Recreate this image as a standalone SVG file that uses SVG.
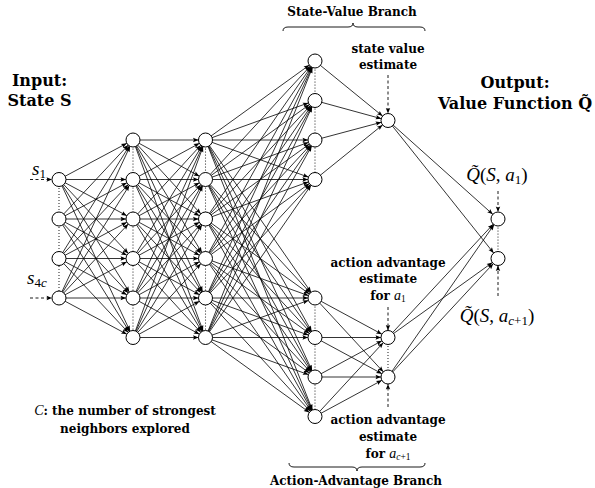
<svg xmlns="http://www.w3.org/2000/svg" width="595" height="488" viewBox="0 0 595 488">
<style>
.b{font-family:"DejaVu Serif",serif;font-weight:bold;text-anchor:middle;fill:#000}
.t{font-size:16px}
.s{font-size:12px}
.m{font-family:"Liberation Serif",serif;font-style:italic;font-weight:normal}
.r{font-family:"Liberation Serif",serif;font-style:normal;font-weight:normal}
.n{fill:#fff;stroke:#000;stroke-width:1}
.dot{stroke:#000;stroke-width:1.2;stroke-linecap:round;stroke-dasharray:0 3;fill:none}
.dash{stroke:#000;stroke-width:0.9;stroke-dasharray:3 2.5;fill:none;marker-end:url(#h)}
</style>
<defs>
<marker id="a" markerUnits="userSpaceOnUse" markerWidth="20" markerHeight="10" viewBox="-20 -5 20 10" refX="0" refY="0" orient="auto" overflow="visible"><path d="M-12.5,-2.2 L-7,0 L-12.5,2.2 L-11.5,0 Z" fill="#000"/></marker>
<marker id="h" markerUnits="userSpaceOnUse" markerWidth="10" markerHeight="10" viewBox="-10 -5 10 10" refX="0" refY="0" orient="auto" overflow="visible"><path d="M-5.5,-2.2 L0,0 L-5.5,2.2 L-4.5,0 Z" fill="#000"/></marker>
</defs>
<rect width="595" height="488" fill="#fff"/>
<g id="connectors" stroke="#000" stroke-width="0.8" marker-end="url(#a)">
<!-- L1 to L2 -->
<line x1="59" y1="179.5" x2="133" y2="140"/><line x1="59" y1="179.5" x2="133" y2="179.5"/><line x1="59" y1="179.5" x2="133" y2="219"/><line x1="59" y1="179.5" x2="133" y2="258.5"/><line x1="59" y1="179.5" x2="133" y2="298"/><line x1="59" y1="179.5" x2="133" y2="337.5"/>
<line x1="59" y1="219" x2="133" y2="140"/><line x1="59" y1="219" x2="133" y2="179.5"/><line x1="59" y1="219" x2="133" y2="219"/><line x1="59" y1="219" x2="133" y2="258.5"/><line x1="59" y1="219" x2="133" y2="298"/><line x1="59" y1="219" x2="133" y2="337.5"/>
<line x1="59" y1="258.5" x2="133" y2="140"/><line x1="59" y1="258.5" x2="133" y2="179.5"/><line x1="59" y1="258.5" x2="133" y2="219"/><line x1="59" y1="258.5" x2="133" y2="258.5"/><line x1="59" y1="258.5" x2="133" y2="298"/><line x1="59" y1="258.5" x2="133" y2="337.5"/>
<line x1="59" y1="298" x2="133" y2="140"/><line x1="59" y1="298" x2="133" y2="179.5"/><line x1="59" y1="298" x2="133" y2="219"/><line x1="59" y1="298" x2="133" y2="258.5"/><line x1="59" y1="298" x2="133" y2="298"/><line x1="59" y1="298" x2="133" y2="337.5"/>
<!-- L2 to L3 -->
<line x1="133" y1="140" x2="205.5" y2="140"/><line x1="133" y1="140" x2="205.5" y2="179.5"/><line x1="133" y1="140" x2="205.5" y2="219"/><line x1="133" y1="140" x2="205.5" y2="258.5"/><line x1="133" y1="140" x2="205.5" y2="298"/><line x1="133" y1="140" x2="205.5" y2="337.5"/>
<line x1="133" y1="179.5" x2="205.5" y2="140"/><line x1="133" y1="179.5" x2="205.5" y2="179.5"/><line x1="133" y1="179.5" x2="205.5" y2="219"/><line x1="133" y1="179.5" x2="205.5" y2="258.5"/><line x1="133" y1="179.5" x2="205.5" y2="298"/><line x1="133" y1="179.5" x2="205.5" y2="337.5"/>
<line x1="133" y1="219" x2="205.5" y2="140"/><line x1="133" y1="219" x2="205.5" y2="179.5"/><line x1="133" y1="219" x2="205.5" y2="219"/><line x1="133" y1="219" x2="205.5" y2="258.5"/><line x1="133" y1="219" x2="205.5" y2="298"/><line x1="133" y1="219" x2="205.5" y2="337.5"/>
<line x1="133" y1="258.5" x2="205.5" y2="140"/><line x1="133" y1="258.5" x2="205.5" y2="179.5"/><line x1="133" y1="258.5" x2="205.5" y2="219"/><line x1="133" y1="258.5" x2="205.5" y2="258.5"/><line x1="133" y1="258.5" x2="205.5" y2="298"/><line x1="133" y1="258.5" x2="205.5" y2="337.5"/>
<line x1="133" y1="298" x2="205.5" y2="140"/><line x1="133" y1="298" x2="205.5" y2="179.5"/><line x1="133" y1="298" x2="205.5" y2="219"/><line x1="133" y1="298" x2="205.5" y2="258.5"/><line x1="133" y1="298" x2="205.5" y2="298"/><line x1="133" y1="298" x2="205.5" y2="337.5"/>
<line x1="133" y1="337.5" x2="205.5" y2="140"/><line x1="133" y1="337.5" x2="205.5" y2="179.5"/><line x1="133" y1="337.5" x2="205.5" y2="219"/><line x1="133" y1="337.5" x2="205.5" y2="258.5"/><line x1="133" y1="337.5" x2="205.5" y2="298"/><line x1="133" y1="337.5" x2="205.5" y2="337.5"/>
<!-- L3 to L4 -->
<line x1="205.5" y1="140" x2="315" y2="61"/><line x1="205.5" y1="140" x2="315" y2="100.5"/><line x1="205.5" y1="140" x2="315" y2="140"/><line x1="205.5" y1="140" x2="315" y2="179.5"/><line x1="205.5" y1="140" x2="315" y2="298"/><line x1="205.5" y1="140" x2="315" y2="337.5"/><line x1="205.5" y1="140" x2="315" y2="377"/><line x1="205.5" y1="140" x2="315" y2="416.5"/>
<line x1="205.5" y1="179.5" x2="315" y2="61"/><line x1="205.5" y1="179.5" x2="315" y2="100.5"/><line x1="205.5" y1="179.5" x2="315" y2="140"/><line x1="205.5" y1="179.5" x2="315" y2="179.5"/><line x1="205.5" y1="179.5" x2="315" y2="298"/><line x1="205.5" y1="179.5" x2="315" y2="337.5"/><line x1="205.5" y1="179.5" x2="315" y2="377"/><line x1="205.5" y1="179.5" x2="315" y2="416.5"/>
<line x1="205.5" y1="219" x2="315" y2="61"/><line x1="205.5" y1="219" x2="315" y2="100.5"/><line x1="205.5" y1="219" x2="315" y2="140"/><line x1="205.5" y1="219" x2="315" y2="179.5"/><line x1="205.5" y1="219" x2="315" y2="298"/><line x1="205.5" y1="219" x2="315" y2="337.5"/><line x1="205.5" y1="219" x2="315" y2="377"/><line x1="205.5" y1="219" x2="315" y2="416.5"/>
<line x1="205.5" y1="258.5" x2="315" y2="61"/><line x1="205.5" y1="258.5" x2="315" y2="100.5"/><line x1="205.5" y1="258.5" x2="315" y2="140"/><line x1="205.5" y1="258.5" x2="315" y2="179.5"/><line x1="205.5" y1="258.5" x2="315" y2="298"/><line x1="205.5" y1="258.5" x2="315" y2="337.5"/><line x1="205.5" y1="258.5" x2="315" y2="377"/><line x1="205.5" y1="258.5" x2="315" y2="416.5"/>
<line x1="205.5" y1="298" x2="315" y2="61"/><line x1="205.5" y1="298" x2="315" y2="100.5"/><line x1="205.5" y1="298" x2="315" y2="140"/><line x1="205.5" y1="298" x2="315" y2="179.5"/><line x1="205.5" y1="298" x2="315" y2="298"/><line x1="205.5" y1="298" x2="315" y2="337.5"/><line x1="205.5" y1="298" x2="315" y2="377"/><line x1="205.5" y1="298" x2="315" y2="416.5"/>
<line x1="205.5" y1="337.5" x2="315" y2="61"/><line x1="205.5" y1="337.5" x2="315" y2="100.5"/><line x1="205.5" y1="337.5" x2="315" y2="140"/><line x1="205.5" y1="337.5" x2="315" y2="179.5"/><line x1="205.5" y1="337.5" x2="315" y2="298"/><line x1="205.5" y1="337.5" x2="315" y2="337.5"/><line x1="205.5" y1="337.5" x2="315" y2="377"/><line x1="205.5" y1="337.5" x2="315" y2="416.5"/>
<!-- state-value branch -->
<line x1="315" y1="61" x2="388" y2="120.5"/><line x1="315" y1="100.5" x2="388" y2="120.5"/><line x1="315" y1="140" x2="388" y2="120.5"/><line x1="315" y1="179.5" x2="388" y2="120.5"/>
<!-- action-advantage branch -->
<line x1="315" y1="298" x2="388" y2="337.5"/><line x1="315" y1="298" x2="388" y2="377"/>
<line x1="315" y1="337.5" x2="388" y2="337.5"/><line x1="315" y1="337.5" x2="388" y2="377"/>
<line x1="315" y1="377" x2="388" y2="337.5"/><line x1="315" y1="377" x2="388" y2="377"/>
<line x1="315" y1="416.5" x2="388" y2="337.5"/><line x1="315" y1="416.5" x2="388" y2="377"/>
<!-- to outputs -->
<line x1="388" y1="120.5" x2="498" y2="219"/><line x1="388" y1="120.5" x2="498" y2="258.5"/>
<line x1="388" y1="337.5" x2="498" y2="219"/><line x1="388" y1="337.5" x2="498" y2="258.5"/>
<line x1="388" y1="377" x2="498" y2="219"/><line x1="388" y1="377" x2="498" y2="258.5"/>
</g>
<g id="dots">
<line class="dot" x1="59" y1="179.5" x2="59" y2="298"/>
<line class="dot" x1="133" y1="140" x2="133" y2="337.5"/>
<line class="dot" x1="205.5" y1="140" x2="205.5" y2="337.5"/>
<line class="dot" x1="315" y1="61" x2="315" y2="179.5"/>
<line class="dot" x1="315" y1="298" x2="315" y2="416.5"/>
<line class="dot" x1="388" y1="337.5" x2="388" y2="377"/>
<line class="dot" x1="498" y1="219" x2="498" y2="258.5"/>
</g>
<g id="pointers">
<line class="dash" x1="30" y1="179.5" x2="52" y2="179.5"/>
<line class="dash" x1="30" y1="298" x2="52" y2="298"/>
<line class="dash" x1="388" y1="75" x2="388" y2="113.5"/>
<line class="dash" x1="388" y1="307" x2="388" y2="330.5"/>
<line class="dash" x1="388" y1="407" x2="388" y2="384"/>
<line class="dash" x1="498" y1="191" x2="498" y2="212"/>
<line class="dash" x1="498" y1="296" x2="498" y2="265.5"/>
</g>
<g id="layer1">
<circle class="n" cx="59" cy="179.5" r="7"/><circle class="n" cx="59" cy="219" r="7"/><circle class="n" cx="59" cy="258.5" r="7"/><circle class="n" cx="59" cy="298" r="7"/>
</g>
<g id="layer2">
<circle class="n" cx="133" cy="140" r="7"/><circle class="n" cx="133" cy="179.5" r="7"/><circle class="n" cx="133" cy="219" r="7"/><circle class="n" cx="133" cy="258.5" r="7"/><circle class="n" cx="133" cy="298" r="7"/><circle class="n" cx="133" cy="337.5" r="7"/>
</g>
<g id="layer3">
<circle class="n" cx="205.5" cy="140" r="7"/><circle class="n" cx="205.5" cy="179.5" r="7"/><circle class="n" cx="205.5" cy="219" r="7"/><circle class="n" cx="205.5" cy="258.5" r="7"/><circle class="n" cx="205.5" cy="298" r="7"/><circle class="n" cx="205.5" cy="337.5" r="7"/>
</g>
<g id="state-value-layer">
<circle class="n" cx="315" cy="61" r="7"/><circle class="n" cx="315" cy="100.5" r="7"/><circle class="n" cx="315" cy="140" r="7"/><circle class="n" cx="315" cy="179.5" r="7"/>
</g>
<g id="action-advantage-layer">
<circle class="n" cx="315" cy="298" r="7"/><circle class="n" cx="315" cy="337.5" r="7"/><circle class="n" cx="315" cy="377" r="7"/><circle class="n" cx="315" cy="416.5" r="7"/>
</g>
<g id="state-value-node"><circle class="n" cx="388" cy="120.5" r="7"/></g>
<g id="action-node-1"><circle class="n" cx="388" cy="337.5" r="7"/></g>
<g id="action-node-2"><circle class="n" cx="388" cy="377" r="7"/></g>
<g id="output-node-1"><circle class="n" cx="498" cy="219" r="7"/></g>
<g id="output-node-2"><circle class="n" cx="498" cy="258.5" r="7"/></g>
<g id="braces" fill="none" stroke="#000" stroke-width="0.9">
<path d="M283,31 Q283,27 288,27 L348,27 Q353,27 353,23 Q353,27 358,27 L420,27 Q425,27 425,31"/>
<path d="M289,463 Q289,467 294,467 L352,467 Q357,467 357,471 Q357,467 362,467 L420,467 Q425,467 425,463"/>
</g>
<g id="labels">
<text class="b t" x="39.5" y="86">Input:</text>
<text class="b t" x="39.5" y="106">State S</text>
<text class="b t" x="515" y="88">Output:</text>
<text class="b t" x="515" y="109">Value Function Q&#x303;</text>
<text class="b s" x="352" y="16">State-Value Branch</text>
<text class="b s" x="356" y="485">Action-Advantage Branch</text>
<text class="b s" x="388" y="53">state value</text>
<text class="b s" x="388" y="69">estimate</text>
<text class="b s" x="388" y="267">action advantage</text>
<text class="b s" x="388" y="283">estimate</text>
<text class="b s" x="388" y="300">for <tspan class="m" font-size="14">a</tspan><tspan class="r" font-size="9.5" dy="2">1</tspan></text>
<text class="b s" x="388" y="424">action advantage</text>
<text class="b s" x="388" y="441">estimate</text>
<text class="b s" x="388" y="458">for <tspan class="m" font-size="14">a</tspan><tspan class="m" font-size="9.5" dy="2">c</tspan><tspan class="r" font-size="9.5">+1</tspan></text>
<text class="b s" x="125" y="415"><tspan class="m" font-size="14">C</tspan>: the number of strongest</text>
<text class="b s" x="125" y="433">neighbors explored</text>
<text x="32" y="175" style="font-family:'Liberation Serif',serif;font-size:19px"><tspan font-style="italic">s</tspan><tspan font-size="13" dy="2.5">1</tspan></text>
<text x="27" y="284" style="font-family:'Liberation Serif',serif;font-size:19px"><tspan font-style="italic">s</tspan><tspan font-size="13" dy="2.5">4<tspan font-style="italic">c</tspan></tspan></text>
<text x="497" y="181" text-anchor="middle" style="font-family:'Liberation Serif',serif;font-size:19px"><tspan font-style="italic">Q&#x303;</tspan>(<tspan font-style="italic">S</tspan>, <tspan font-style="italic">a</tspan><tspan font-size="13" dy="2.5">1</tspan><tspan dy="-2.5">)</tspan></text>
<text x="497" y="322" text-anchor="middle" style="font-family:'Liberation Serif',serif;font-size:19px"><tspan font-style="italic">Q&#x303;</tspan>(<tspan font-style="italic">S</tspan>, <tspan font-style="italic">a</tspan><tspan font-size="13" dy="2.5"><tspan font-style="italic">c</tspan>+1</tspan><tspan dy="-2.5">)</tspan></text>
</g>
</svg>
